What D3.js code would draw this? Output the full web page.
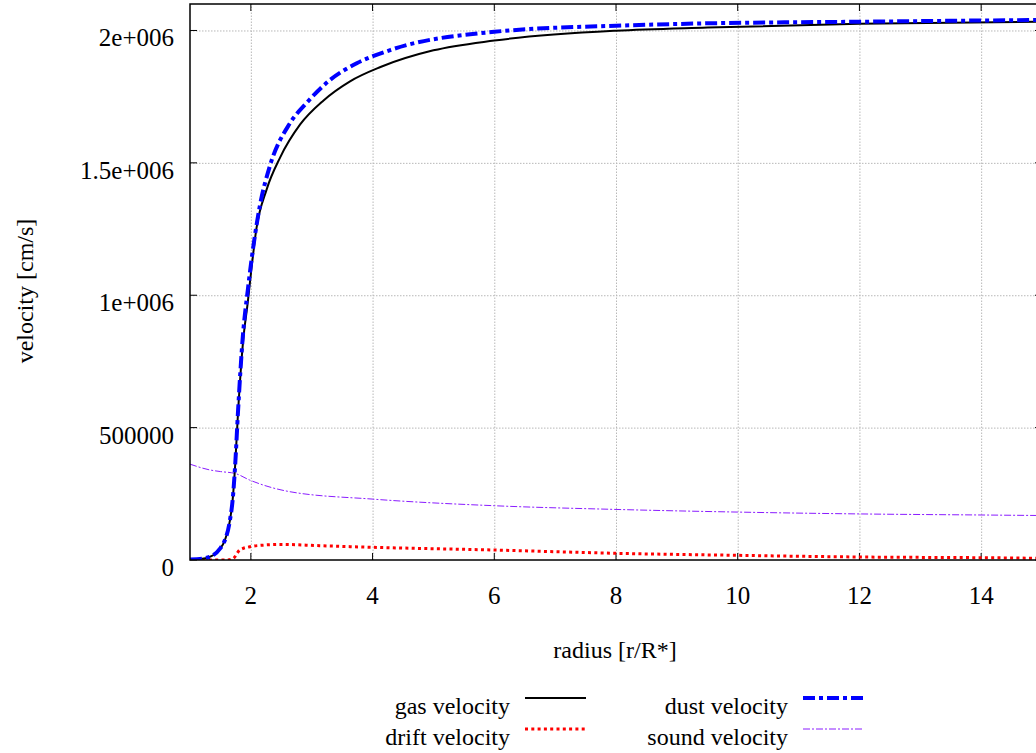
<!DOCTYPE html>
<html lang="en">
  <head>
    <meta charset="utf-8">
    <title>velocity</title>
    <script src="https://cdn.jsdelivr.net/npm/d3@7"></script>
    <style>
      body { margin: 0; background: #fff; }
    </style>
  </head>
  <body>
    <svg width="1036" height="753" id="mainsvg"></svg>
    <script>
      // values: radius [r/R*] -> velocity [cm/s]
      const gasR   = [1.0, 1.2, 1.38, 1.5, 1.55, 1.656, 1.70, 1.74, 1.79, 1.87, 1.95, 2.0, 2.09, 2.26, 2.48, 2.81, 3.19, 3.63, 4.13, 5.0, 6.0, 8.0, 9.5, 12, 15];
      const gasV   = [2000, 5000, 18000, 45000, 63000, 150000, 225000, 350000, 560000, 820000, 975000, 1080000, 1250000, 1400000, 1520000, 1645000, 1735000, 1808000, 1862000, 1925000, 1962000, 1999000, 2011000, 2025000, 2033000];
      const dustR  = [1.0, 1.2, 1.38, 1.5, 1.55, 1.656, 1.70, 1.74, 1.79, 1.87, 1.95, 2.15, 2.31, 2.64, 2.91, 3.30, 3.74, 4.29, 6.0, 8.0, 9.5, 12, 15];
      const dustV  = [2000, 5000, 18000, 45000, 63000, 150000, 225000, 350000, 565000, 850000, 1020000, 1340000, 1486000, 1649000, 1725000, 1813000, 1876000, 1926000, 1995000, 2018000, 2027000, 2033000, 2040000];
      const driftR = [1.0, 1.6, 1.71, 1.82, 1.98, 2.2, 2.48, 3.13, 4.0, 6.0, 8.0, 10, 12, 14, 15];
      const driftV = [0, 0, 6000, 38000, 50000, 56000, 59000, 54000, 48000, 37700, 25300, 17600, 11300, 8700, 6400];
      const soundR = [1.0, 1.33, 1.5, 1.74, 1.98, 2.64, 4.0, 6.0, 8.0, 10, 12, 14, 15];
      const soundV = [362000, 340000, 334000, 327000, 302000, 258000, 230000, 205000, 191000, 181000, 174000, 170000, 168000];

      const xTicks = [2, 4, 6, 8, 10, 12, 14];
      const yTicks = [0, 500000, 1000000, 1500000, 2000000];
      const yTickLabels = ['0', '500000', '1e+006', '1.5e+006', '2e+006'];
      const seriesNames = ['gas velocity', 'drift velocity', 'dust velocity', 'sound velocity'];

      const fontFamily = "'Liberation Serif', 'Times New Roman', Tinos, 'DejaVu Serif', serif";
      const svg = d3.select('#mainsvg').attr('font-family', fontFamily);
      const margin = { top: 4, left: 190 };
      const innerWidth = 852;
      const innerHeight = 556;

      // scales in page coordinates
      const xScale = d3.scaleLinear().domain([1, 15]).range([margin.left, margin.left + innerWidth]);
      const yScale = d3.scaleLinear().domain([0, 2100000]).range([margin.top + innerHeight, margin.top]);
      const bottom = margin.top + innerHeight;
      const right = margin.left + innerWidth;

      svg.append('defs').append('clipPath').attr('id', 'plotclip')
        .append('rect')
        .attr('x', margin.left).attr('y', margin.top)
        .attr('width', innerWidth).attr('height', innerHeight);

      // grid
      const xGrid = svg.append('g').call(d3.axisBottom(xScale).tickValues(xTicks).tickSize(-innerHeight).tickFormat(''))
        .attr('transform', `translate(0, ${bottom})`);
      const yGrid = svg.append('g').call(d3.axisLeft(yScale).tickValues(yTicks.slice(1)).tickSize(-innerWidth).tickFormat(''))
        .attr('transform', `translate(${margin.left}, 0)`);
      [xGrid, yGrid].forEach(gr => {
        gr.selectAll('.domain').remove();
        gr.selectAll('text').remove();
        gr.selectAll('line').attr('stroke', '#b8b8b8').attr('stroke-dasharray', '1.5,1.5');
      });

      // ticks, inward on all four sides
      const tickLen = 7;
      const tk = svg.append('g').attr('stroke', '#000').attr('stroke-width', 1);
      xTicks.forEach(t => {
        tk.append('line').attr('x1', xScale(t)).attr('x2', xScale(t)).attr('y1', bottom).attr('y2', bottom - tickLen);
        tk.append('line').attr('x1', xScale(t)).attr('x2', xScale(t)).attr('y1', margin.top).attr('y2', margin.top + tickLen);
      });
      yTicks.forEach(t => {
        tk.append('line').attr('x1', margin.left).attr('x2', margin.left + tickLen).attr('y1', yScale(t)).attr('y2', yScale(t));
        tk.append('line').attr('x1', right).attr('x2', right - tickLen).attr('y1', yScale(t)).attr('y2', yScale(t));
      });

      // tick labels (gnuplot output sits a little below the tick)
      svg.selectAll('.xlab').data(xTicks).enter().append('text')
        .attr('class', 'xlab')
        .attr('x', d => xScale(d))
        .attr('y', bottom + 44)
        .attr('text-anchor', 'middle')
        .attr('font-size', 25)
        .text(d => d);
      svg.selectAll('.ylab').data(yTicks).enter().append('text')
        .attr('class', 'ylab')
        .attr('x', margin.left - 16)
        .attr('y', d => yScale(d) + 16)
        .attr('text-anchor', 'end')
        .attr('font-size', 25)
        .text((d, i) => yTickLabels[i]);

      // axis titles
      svg.append('text').text('radius [r/R*]')
        .attr('x', 615)
        .attr('y', 658)
        .attr('text-anchor', 'middle')
        .attr('font-size', 24);
      svg.append('text').text('velocity [cm/s]')
        .attr('transform', `translate(33, 291) rotate(-90)`)
        .attr('text-anchor', 'middle')
        .attr('font-size', 24);

      // curves
      const styles = [
        { r: gasR, v: gasV, color: '#000000', width: 2, dash: null },
        { r: driftR, v: driftV, color: '#ff0000', width: 3, dash: '3,3.3' },
        { r: dustR, v: dustV, color: '#0000ff', width: 4, dash: '12,4,4,4' },
        { r: soundR, v: soundV, color: '#8a1cff', width: 1, dash: '7,2,2,2' }
      ];
      const line = d3.line()
        .x(d => xScale(d[0]))
        .y(d => yScale(d[1]))
        .curve(d3.curveMonotoneX);
      const plot = svg.append('g').attr('clip-path', 'url(#plotclip)');
      [3, 1, 0, 2].forEach(i => {
        const s = styles[i];
        plot.append('path')
          .datum(s.r.map((r, k) => [r, s.v[k]]))
          .attr('d', line)
          .attr('fill', 'none')
          .attr('stroke', s.color)
          .attr('stroke-width', s.width)
          .attr('stroke-dasharray', s.dash);
      });

      // frame
      svg.append('rect')
        .attr('x', margin.left).attr('y', margin.top)
        .attr('width', innerWidth).attr('height', innerHeight)
        .attr('fill', 'none').attr('stroke', '#000').attr('stroke-width', 1.5);

      // legend
      const legendX = [510, 510, 788, 788];
      const legendY = [714, 745, 714, 745];
      svg.selectAll('.legend_text').data(seriesNames).enter().append('text')
        .attr('class', 'legend_text')
        .attr('x', (d, i) => legendX[i])
        .attr('y', (d, i) => legendY[i])
        .attr('text-anchor', 'end')
        .attr('font-size', 24)
        .text(d => d);
      svg.selectAll('.legend_line').data(seriesNames).enter().append('line')
        .attr('class', 'legend_line')
        .attr('x1', (d, i) => legendX[i] + 15).attr('x2', (d, i) => legendX[i] + 76)
        .attr('y1', (d, i) => legendY[i] - 16).attr('y2', (d, i) => legendY[i] - 16)
        .attr('stroke', (d, i) => styles[i].color)
        .attr('stroke-width', (d, i) => styles[i].width)
        .attr('stroke-dasharray', (d, i) => styles[i].dash);
    </script>
  </body>
</html>
